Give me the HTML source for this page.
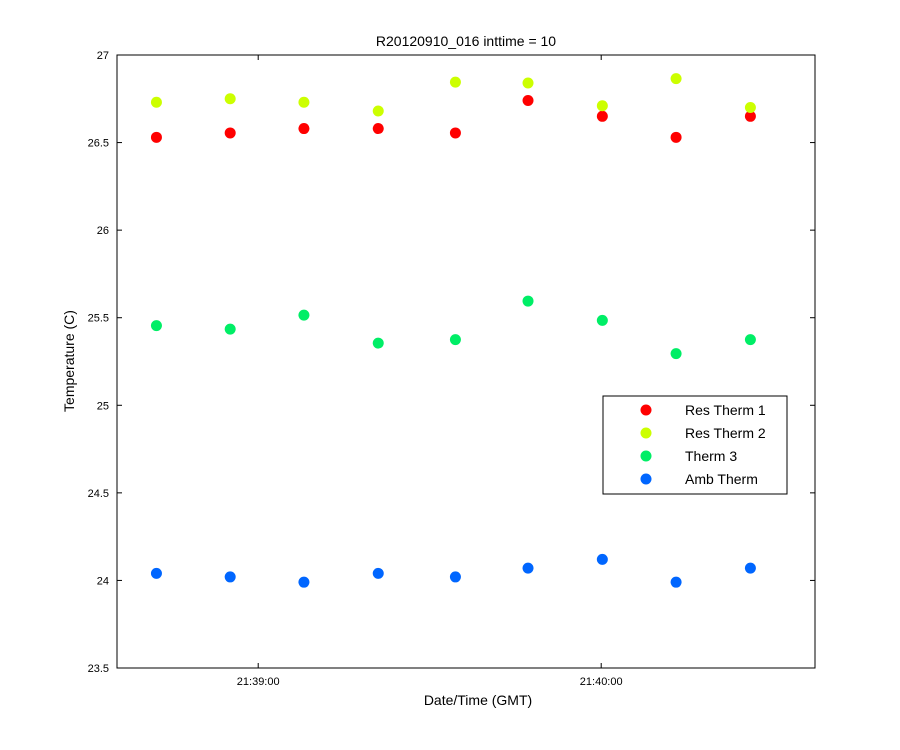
<!DOCTYPE html>
<html><head><meta charset="utf-8"><style>
body{margin:0;background:#fff}
svg{display:block;font-family:"Liberation Sans",Arial,sans-serif}
</style></head><body>
<svg id="chart" width="900" height="750">
<rect x="0" y="0" width="900" height="750" fill="#fff"/>
<rect x="117" y="55" width="698" height="613" fill="#fff" stroke="#000" stroke-width="1"/>
<text x="466" y="46" font-size="14" text-anchor="middle">R20120910_016 inttime = 10</text>
<text x="478" y="705" font-size="14" text-anchor="middle">Date/Time (GMT)</text>
<text x="74" y="361" font-size="14" text-anchor="middle" transform="rotate(-90 74 361)">Temperature (C)</text>
<g id="axes"></g>
<g id="marks"></g>
<g id="legend">
<rect x="603" y="396" width="184" height="98" fill="#fff" stroke="#000"/>
</g>
</svg>
<script>
// times: seconds relative to 21:39:00
const times = [-17.8, -4.9, 8.0, 21.0, 34.5, 47.2, 60.2, 73.1, 86.1];
const seriesNames = ["Res Therm 1", "Res Therm 2", "Therm 3", "Amb Therm"];
const resTherm1 = [26.53, 26.555, 26.58, 26.58, 26.555, 26.74, 26.65, 26.53, 26.65];
const resTherm2 = [26.73, 26.75, 26.73, 26.68, 26.845, 26.84, 26.71, 26.865, 26.70];
const therm3 = [25.455, 25.435, 25.515, 25.355, 25.375, 25.595, 25.485, 25.295, 25.375];
const ambTherm = [24.04, 24.02, 23.99, 24.04, 24.02, 24.07, 24.12, 23.99, 24.07];
const yTicks = [23.5, 24, 24.5, 25, 25.5, 26, 26.5, 27];
const yTickLabels = ["23.5", "24", "24.5", "25", "25.5", "26", "26.5", "27"];
const xTicks = [0, 60];
const xTickLabels = ["21:39:00", "21:40:00"];

const colors = ["#ff0000", "#ccff00", "#00ee66", "#0066ff"];
const X0 = 117, X1 = 815, Y0 = 668, Y1 = 55;
const xMin = -24.7, xMax = 97.4, yMin = 23.5, yMax = 27;
const xs = v => X0 + (v - xMin) / (xMax - xMin) * (X1 - X0);
const ys = v => Y0 - (v - yMin) / (yMax - yMin) * (Y0 - Y1);
const NS = "http://www.w3.org/2000/svg";
function mk(tag, attrs, parent) {
  const e = document.createElementNS(NS, tag);
  for (const k in attrs) e.setAttribute(k, attrs[k]);
  parent.appendChild(e);
  return e;
}
const axes = document.getElementById("axes");
yTicks.forEach((t, i) => {
  const y = ys(t);
  mk("line", {x1: X0, x2: X0 + 5, y1: y, y2: y, stroke: "#000"}, axes);
  mk("line", {x1: X1, x2: X1 - 5, y1: y, y2: y, stroke: "#000"}, axes);
  const tx = mk("text", {x: X0 - 8, y: y + 4, "font-size": 11, "text-anchor": "end"}, axes);
  
  
  tx.textContent = yTickLabels[i];
});
xTicks.forEach((t, i) => {
  const x = xs(t);
  mk("line", {x1: x, x2: x, y1: Y0, y2: Y0 - 5, stroke: "#000"}, axes);
  mk("line", {x1: x, x2: x, y1: Y1, y2: Y1 + 5, stroke: "#000"}, axes);
  const tx = mk("text", {x: x, y: Y0 + 17, "font-size": 11, "text-anchor": "middle"}, axes);
  
  
  tx.textContent = xTickLabels[i];
});
const marks = document.getElementById("marks");
const all = [resTherm1, resTherm2, therm3, ambTherm];
all.forEach((s, si) => {
  s.forEach((v, i) => {
    const c = mk("circle", {cx: xs(times[i]), cy: ys(v), r: 5.5, fill: colors[si]}, marks);
    
    
  });
});
const legend = document.getElementById("legend");
seriesNames.forEach((n, i) => {
  const y = 410 + i * 23;
  const c = mk("circle", {cx: 646, cy: y, r: 5.5, fill: colors[i]}, legend);
  
  
  const t = mk("text", {x: 685, y: y + 5, "font-size": 14}, legend);
  
  
  t.textContent = n;
});
</script>
</body></html>
